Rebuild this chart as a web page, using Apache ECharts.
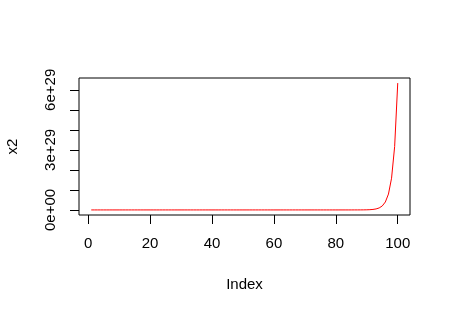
<!DOCTYPE html>
<html>
<head>
<meta charset="utf-8">
<script src="https://cdn.jsdelivr.net/npm/echarts@6/dist/echarts.min.js"></script>
<style>
html,body{margin:0;padding:0;background:#fff;}
#c{width:451px;height:314px;}
</style>
</head>
<body>
<div id="c"></div>
<script>
var xTicks = [0, 20, 40, 60, 80, 100];
var yTicks = [0, 1e29, 2e29, 3e29, 4e29, 5e29, 6e29];
var yLabels = [0, 3e29, 6e29];
var index = [];
for (var i = 1; i <= 100; i++) index.push(i);
var x2 = [
  1, 2, 4, 8, 16, 32, 64, 128, 256, 512,
  1024, 2048, 4096, 8192, 16384, 32768, 65536, 131072, 262144, 524288,
  1.049e6, 2.097e6, 4.194e6, 8.389e6, 1.678e7, 3.355e7, 6.711e7, 1.342e8, 2.684e8, 5.369e8,
  1.074e9, 2.147e9, 4.295e9, 8.590e9, 1.718e10, 3.436e10, 6.872e10, 1.374e11, 2.749e11, 5.498e11,
  1.100e12, 2.199e12, 4.398e12, 8.796e12, 1.759e13, 3.518e13, 7.037e13, 1.407e14, 2.815e14, 5.630e14,
  1.126e15, 2.252e15, 4.504e15, 9.007e15, 1.801e16, 3.603e16, 7.206e16, 1.441e17, 2.882e17, 5.765e17,
  1.153e18, 2.306e18, 4.612e18, 9.223e18, 1.845e19, 3.689e19, 7.379e19, 1.476e20, 2.951e20, 5.903e20,
  1.181e21, 2.361e21, 4.722e21, 9.445e21, 1.889e22, 3.778e22, 7.556e22, 1.511e23, 3.022e23, 6.045e23,
  1.209e24, 2.418e24, 4.836e24, 9.671e24, 1.934e25, 3.869e25, 7.737e25, 1.547e26, 3.095e26, 6.190e26,
  1.238e27, 2.476e27, 4.952e27, 9.904e27, 1.981e28, 3.961e28, 7.923e28, 1.585e29, 3.169e29, 6.338e29
];

var data = index.map(function (v, k) { return [v, x2[k]]; });
var FONT = 'Liberation Sans';
var chart = echarts.init(document.getElementById('c'), null, {renderer: 'canvas'});
chart.setOption({
  animation: false,
  backgroundColor: '#fff',
  grid: {left: 79, top: 78, width: 331, height: 137, show: true, borderColor: '#000', borderWidth: 1,
    backgroundColor: 'transparent', containLabel: false, outerBoundsMode: 'none'},
  xAxis: {
    type: 'value', min: -2.96, max: 103.96,
    name: 'Index', nameLocation: 'middle', nameGap: 62,
    nameTextStyle: {fontFamily: FONT, fontSize: 15, color: '#000'},
    axisLine: {show: false, onZero: false},
    splitLine: {show: false},
    axisTick: {show: true, inside: false, length: 9, customValues: xTicks, lineStyle: {color: '#000', width: 1}},
    axisLabel: {customValues: xTicks, margin: 21, fontFamily: FONT, fontSize: 15, color: '#000'}
  },
  yAxis: {
    type: 'value', min: -0.2535e29, max: 6.5915e29,
    name: 'x2', nameLocation: 'middle', nameGap: 59, nameRotate: 90,
    nameTextStyle: {fontFamily: FONT, fontSize: 15, color: '#000'},
    axisLine: {show: false, onZero: false},
    splitLine: {show: false},
    axisTick: {show: true, inside: false, length: 9, customValues: yTicks, lineStyle: {color: '#000', width: 1}},
    axisLabel: {customValues: yLabels, rotate: 90, margin: 21, fontFamily: FONT, fontSize: 15, color: '#000',
      formatter: function (v) { return v === 0 ? '0e+00' : v.toExponential(0); }}
  },
  series: [{
    type: 'line', data: data, showSymbol: false, symbol: 'none',
    lineStyle: {color: '#ff0000', width: 1}, itemStyle: {color: '#ff0000'}
  }]
});
</script>
</body>
</html>
